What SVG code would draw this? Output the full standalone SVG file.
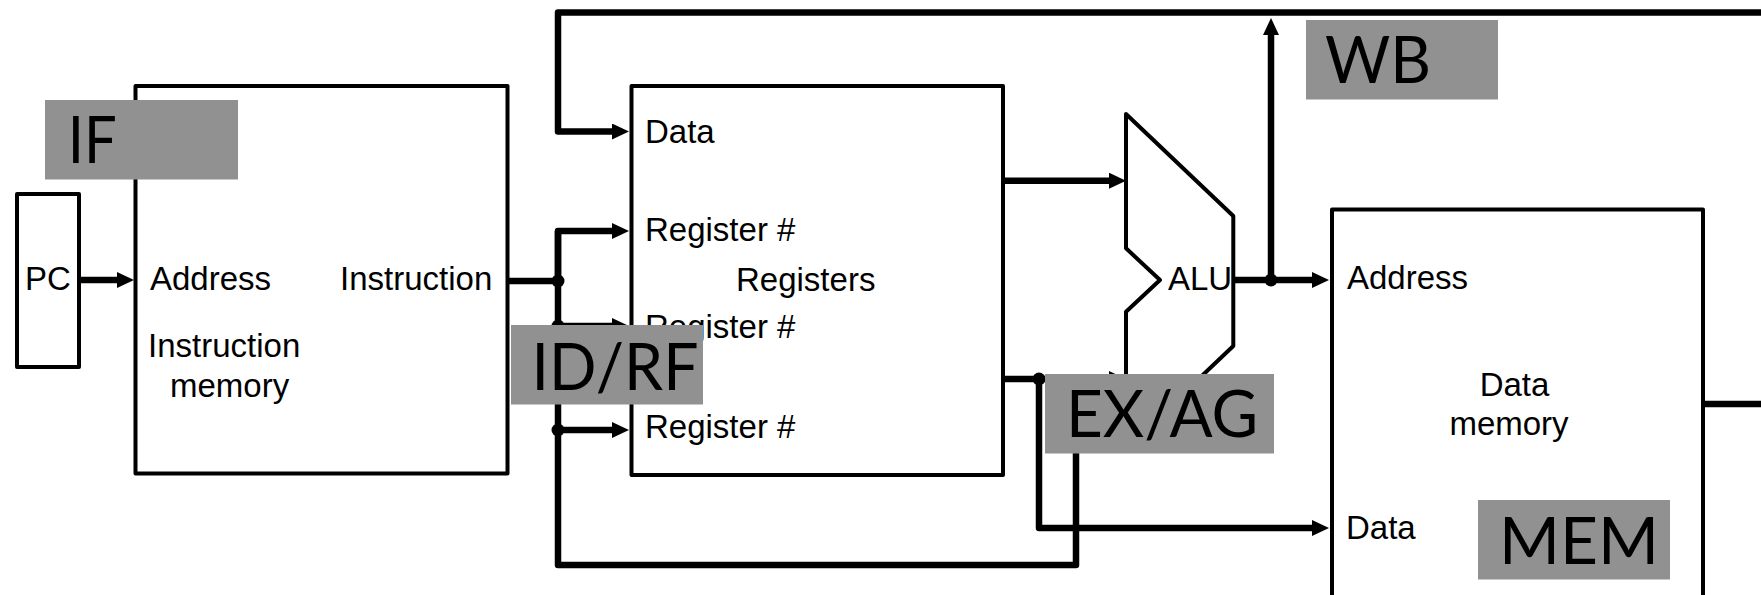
<svg xmlns="http://www.w3.org/2000/svg" width="1761" height="595" viewBox="0 0 1761 595">
<defs>
<style>
.box{fill:#ffffff;stroke:#000000;stroke-width:4;stroke-linejoin:round}
.lbl{font-family:"Liberation Sans",Arial,sans-serif;font-size:33px;fill:#000000}
.stage{fill:#919191}
.stxt{font-family:Lato,"Open Sans",sans-serif;font-size:65px;fill:#000000;text-anchor:middle}
.wire{fill:none;stroke:#000000;stroke-width:6.5;stroke-linejoin:round;stroke-linecap:butt}
.dot{fill:#000000}
</style>
<marker id="arr" markerUnits="userSpaceOnUse" markerWidth="17" markerHeight="16" refX="3" refY="8" orient="auto" viewBox="0 0 17 16">
<path d="M0,0 L17,8 L0,16 z" fill="#000000"/>
</marker>
</defs>
<rect width="1761" height="595" fill="#ffffff"/>

<g id="pc">
<rect class="box" x="17" y="194" width="62" height="173"/>
<text class="lbl" x="48" y="290" text-anchor="middle">PC</text>
</g>

<g id="instruction-memory">
<rect class="box" x="135.5" y="86" width="372" height="387.5"/>
<text class="lbl" x="150" y="290">Address</text>
<text class="lbl" x="340" y="290">Instruction</text>
<text class="lbl" x="148" y="356.7">Instruction</text>
<text class="lbl" x="170" y="396.7">memory</text>
</g>

<g id="registers">
<rect class="box" x="631.5" y="86" width="371.5" height="389"/>
<text class="lbl" x="645" y="142.7">Data</text>
<text class="lbl" x="645" y="240.7">Register #</text>
<text class="lbl" x="736" y="291">Registers</text>
<text class="lbl" x="645" y="337.5">Register #</text>
<text class="lbl" x="645" y="437.5">Register #</text>
</g>

<g id="alu">
<polygon class="box" points="1126,114 1233.3,216 1233.3,346 1126,448 1126,311.7 1160,280 1126,248.3"/>
<text class="lbl" x="1168" y="290">ALU</text>
</g>

<g id="data-memory">
<rect class="box" x="1332" y="209.5" width="371" height="400"/>
<text class="lbl" x="1347" y="289.3">Address</text>
<text class="lbl" x="1514.5" y="395.7" text-anchor="middle">Data</text>
<text class="lbl" x="1509" y="435" text-anchor="middle">memory</text>
<text class="lbl" x="1346" y="538.5">Data</text>
</g>

<g id="connectors">
<path class="wire" d="M1761,12.5 H558 V131.5 H615" marker-end="url(#arr)"/>
<path class="wire" d="M79,280 H120" marker-end="url(#arr)"/>
<path class="wire" d="M507.5,281 H558"/>
<path class="wire" d="M558,281 V231 H615" marker-end="url(#arr)"/>
<path class="wire" d="M558,231 V565 H1076 V440"/>
<path class="wire" d="M558,326 H615" marker-end="url(#arr)"/>
<path class="wire" d="M558,430 H615" marker-end="url(#arr)"/>
<path class="wire" d="M1003,180.7 H1112" marker-end="url(#arr)"/>
<path class="wire" d="M1003,379 H1112" marker-end="url(#arr)"/>
<path class="wire" d="M1039,379 V528 H1315" marker-end="url(#arr)"/>
<path class="wire" d="M1233.3,280 H1315" marker-end="url(#arr)"/>
<path class="wire" d="M1271,280 V32" marker-end="url(#arr)"/>
<path class="wire" d="M1703,404 H1761"/>
<circle class="dot" cx="558" cy="281" r="6.5"/>
<circle class="dot" cx="558" cy="326" r="6.5"/>
<circle class="dot" cx="558" cy="430" r="6.5"/>
<circle class="dot" cx="1039" cy="379" r="6.5"/>
<circle class="dot" cx="1271" cy="280" r="6.5"/>
</g>

<g id="stage-if">
<rect class="stage" x="45" y="100" width="193" height="79.5"/>
<text class="stxt" x="92.3" y="163.3" textLength="49" lengthAdjust="spacingAndGlyphs">IF</text>
</g>
<g id="stage-idrf">
<rect class="stage" x="511" y="325" width="192" height="79.5"/>
<text class="stxt" x="615" y="390" textLength="167" lengthAdjust="spacingAndGlyphs">ID/RF</text>
</g>
<g id="stage-exag">
<rect class="stage" x="1045" y="374" width="229" height="79.5"/>
<text class="stxt" x="1162" y="437.3" textLength="192" lengthAdjust="spacingAndGlyphs">EX/AG</text>
</g>
<g id="stage-wb">
<rect class="stage" x="1306" y="20" width="192" height="79.5"/>
<text class="stxt" x="1378" y="83.3" textLength="106" lengthAdjust="spacingAndGlyphs">WB</text>
</g>
<g id="stage-mem">
<rect class="stage" x="1478" y="500" width="192" height="79.5"/>
<text class="stxt" x="1579" y="564" textLength="160" lengthAdjust="spacingAndGlyphs">MEM</text>
</g>
</svg>
